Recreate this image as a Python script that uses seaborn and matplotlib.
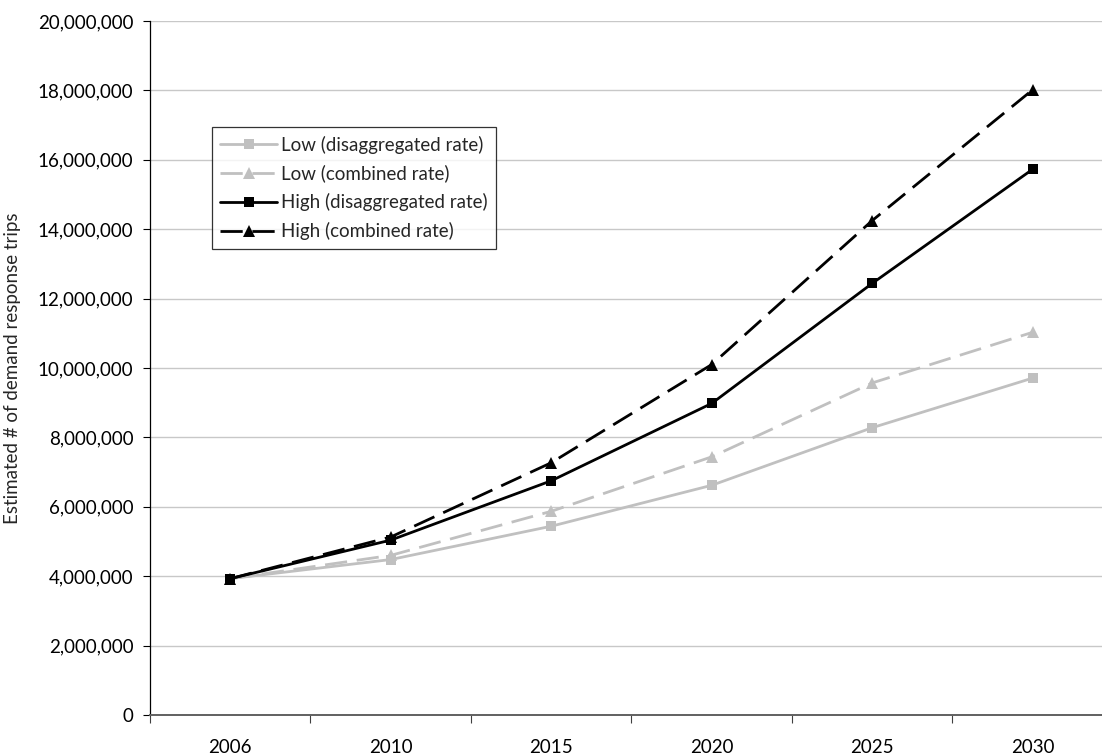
import matplotlib
matplotlib.use("Agg")
import matplotlib.pyplot as plt
import matplotlib.ticker as mticker
import numpy as np
import pandas as pd
import seaborn as sns

# Projected demand response trips by scenario
years = ["2006", "2010", "2015", "2020", "2025", "2030"]
low_disagg = [3930000, 4480000, 5440000, 6620000, 8280000, 9710000]
low_combined = [3930000, 4600000, 5870000, 7440000, 9570000, 11030000]
high_disagg = [3930000, 5040000, 6750000, 8980000, 12440000, 15730000]
high_combined = [3930000, 5130000, 7270000, 10100000, 14250000, 18020000]

series_names = [
    "Low (disaggregated rate)",
    "Low (combined rate)",
    "High (disaggregated rate)",
    "High (combined rate)",
]
series_values = [low_disagg, low_combined, high_disagg, high_combined]

frames = []
for name, vals in zip(series_names, series_values):
    frames.append(pd.DataFrame({"idx": np.arange(len(years)), "year": years,
                                "trips": vals, "series": name}))
df = pd.concat(frames, ignore_index=True)

sns.set_theme(style="white")
plt.rcParams["font.family"] = ["Lato", "DejaVu Sans"]

fig = plt.figure(figsize=(11.02, 7.55), dpi=100)
W, H = 1102, 755
left, right, top, bottom = 150, 1113, 21, 715
ax = fig.add_axes([left / W, 1 - bottom / H, (right - left) / W, (bottom - top) / H])

gray = "#C0C0C0"
palette = {series_names[0]: gray, series_names[1]: gray,
           series_names[2]: "black", series_names[3]: "black"}
markers = {series_names[0]: "s", series_names[1]: "^",
           series_names[2]: "s", series_names[3]: "^"}
dashes = {series_names[0]: "", series_names[1]: (8, 3.5),
          series_names[2]: "", series_names[3]: (8, 3.5)}

sns.lineplot(data=df, x="idx", y="trips", hue="series", style="series",
             hue_order=series_names, style_order=series_names,
             palette=palette, markers=markers, dashes=dashes,
             linewidth=2.0, markersize=8, markeredgewidth=0,
             ax=ax, legend="full")

# Slightly smaller squares than triangles
for line in ax.get_lines():
    if line.get_marker() == "s":
        line.set_markersize(6.8)

ax.set_xlim(-0.5, len(years) - 0.5)
ax.set_ylim(0, 20000000)

label_size = 13.5

# Category axis: ticks between categories, labels centred
ax.set_xticks(np.arange(-0.5, len(years), 1.0))
ax.set_xticklabels([])
ax.set_xticks(np.arange(len(years)), minor=True)
ax.set_xticklabels(years, minor=True)
ax.tick_params(axis="x", which="major", direction="out", length=6, width=0.8,
               color="#404040", bottom=True)
ax.tick_params(axis="x", which="minor", length=0, pad=17, labelsize=label_size,
               labelcolor="black")

ax.yaxis.set_major_locator(mticker.MultipleLocator(2000000))
ax.yaxis.set_major_formatter(mticker.FuncFormatter(lambda v, p: f"{int(v):,}"))
ax.tick_params(axis="y", which="major", direction="out", length=5, width=0.8,
               color="black", left=True, labelsize=label_size, labelcolor="black",
               pad=7)

ax.grid(axis="y", color="#C8C8C8", linewidth=1.0)
ax.grid(axis="x", visible=False)
ax.set_axisbelow(True)

for s in ["top", "right"]:
    ax.spines[s].set_visible(False)
ax.spines["left"].set_color("black")
ax.spines["left"].set_linewidth(0.9)
ax.spines["bottom"].set_color("#606060")
ax.spines["bottom"].set_linewidth(1.4)

ax.set_xlabel("")
ax.set_ylabel("Estimated # of demand response trips", fontsize=label_size,
              labelpad=12)

leg = ax.legend(loc="upper left", bbox_to_anchor=((212 - left) / (right - left),
                                                  (bottom - 127) / (bottom - top)),
                frameon=True, fancybox=False, fontsize=13.5, handlelength=3.0,
                handletextpad=0.25, borderpad=0.45, labelspacing=0.58,
                borderaxespad=0)
leg.get_frame().set_edgecolor("black")
leg.get_frame().set_linewidth(0.9)

fig.savefig("out.png", dpi=100, facecolor="white")
